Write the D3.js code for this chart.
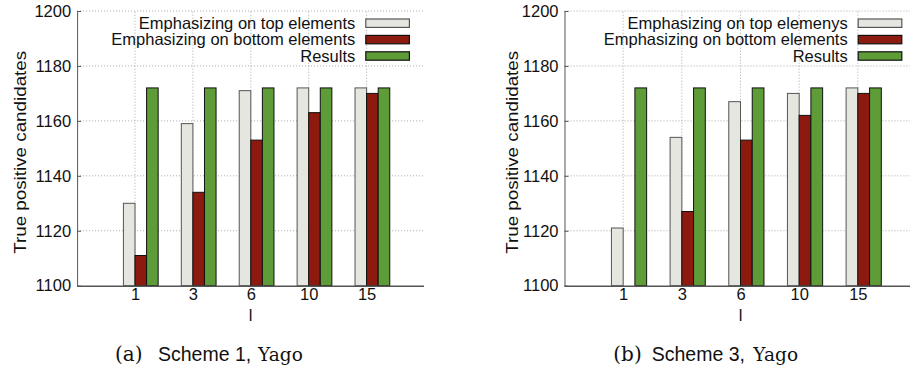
<!DOCTYPE html>
<html>
<head>
<meta charset="utf-8">
<script src="https://cdn.jsdelivr.net/npm/d3@7"></script>
<style>
  body { margin: 0; background: #fff; }
  svg { display: block; }
  text { font-family: "Liberation Sans", Arial, sans-serif; }
</style>
</head>
<body>
<svg width="910" height="372"></svg>
<script>
// Data
const lValues = ["1", "3", "6", "10", "15"];
const yTicks = [1100, 1120, 1140, 1160, 1180, 1200];

const namesA = ["Emphasizing on top elements", "Emphasizing on bottom elements", "Results"];
const topA = [1130, 1159, 1171, 1172, 1172];
const bottomA = [1111, 1134, 1153, 1163, 1170];
const resultsA = [1172, 1172, 1172, 1172, 1172];

const namesB = ["Emphasizing on top elemenys", "Emphasizing on bottom elements", "Results"];
const topB = [1121, 1154, 1167, 1170, 1172];
const bottomB = [null, 1127, 1153, 1162, 1170];
const resultsB = [1172, 1172, 1172, 1172, 1172];

const fills = ["#e6e6e1", "#8c1a0f", "#5d9c36"];
const strokes = ["#555", "#111", "#111"];

const svg = d3.select("svg");

function drawPanel(opts, names, series) {
    const g = svg.append("g");

    // x: category index 0..6, tick k sits at k+1
    const x = d3.scaleLinear().domain([0, 6]).range([opts.x0, opts.x6]);
    const y = d3.scaleLinear().domain([1100, 1200]).range([285.7, 11]);
    const bw = 0.2; // bar width in category units

    // grid
    g.selectAll(".hgrid").data(yTicks.slice(1)).join("line")
        .attr("x1", x(0)).attr("x2", opts.right)
        .attr("y1", d => y(d)).attr("y2", d => y(d))
        .attr("stroke", "#aaa").attr("stroke-dasharray", "1,2");
    g.selectAll(".vgrid").data(lValues).join("line")
        .attr("x1", (d, i) => x(i + 1)).attr("x2", (d, i) => x(i + 1))
        .attr("y1", y(1100)).attr("y2", y(1200))
        .attr("stroke", "#aaa").attr("stroke-dasharray", "1,2");

    // bars
    series.forEach((vals, s) => {
        g.selectAll(".bar" + s).data(vals.map((v, i) => ({ v, i })).filter(d => d.v != null))
            .join("rect")
            .attr("x", d => x(d.i + 1 + (s - 1) * bw))
            .attr("width", x(bw) - x(0))
            .attr("y", d => y(d.v))
            .attr("height", d => y(1100) - y(d.v))
            .attr("fill", fills[s])
            .attr("stroke", strokes[s])
            .attr("stroke-width", 1);
    });

    // y axis
    const ya = g.append("g")
        .attr("transform", `translate(${x(0)},0)`)
        .call(d3.axisLeft(y).tickValues(yTicks).tickFormat(d3.format("d"))
            .tickSizeInner(-4).tickSizeOuter(0).tickPadding(6));
    ya.select(".domain").attr("stroke", "#555");
    ya.selectAll(".tick line").attr("stroke", "#555");
    ya.selectAll("text").style("font-size", "16.5px").attr("fill", "#111");

    // x axis
    const xa = g.append("g")
        .attr("transform", `translate(0,${y(1100)})`)
        .call(d3.axisBottom(x).tickValues([1, 2, 3, 4, 5]).tickFormat(d => lValues[d - 1])
            .tickSize(0).tickPadding(3));
    xa.select(".domain").attr("d", `M${x(0)},0.5H${opts.right}`).attr("stroke", "#555").attr("stroke-width", 1.5);
    xa.selectAll("text").style("font-size", "16.5px").attr("fill", "#111");

    // axis labels
    g.append("text")
        .attr("transform", `translate(${opts.ylabX},${(y(1100) + y(1200)) / 2 + 4}) rotate(-90)`)
        .attr("text-anchor", "middle")
        .attr("dy", "0.35em")
        .attr("textLength", 203).attr("lengthAdjust", "spacingAndGlyphs")
        .style("font-size", "17px")
        .attr("fill", "#111")
        .text("True positive candidates");

    g.append("text")
        .attr("x", (x(0) + opts.xlabRight) / 2)
        .attr("y", 320.5)
        .attr("text-anchor", "middle")
        .style("font-size", "16.5px")
        .attr("fill", "#111")
        .text("l");

    // legend
    const leg = g.append("g");
    names.forEach((name, s) => {
        const cy = 23.2 + s * 16.4;
        leg.append("text")
            .attr("x", opts.legText).attr("y", cy + 5.6)
            .attr("text-anchor", "end")
            .style("font-size", "16.5px")
            .attr("fill", "#111")
            .text(name);
        leg.append("rect")
            .attr("x", opts.legText + 10.5).attr("y", cy - 4.2)
            .attr("width", 43.6).attr("height", 8.4)
            .attr("fill", fills[s]).attr("stroke", strokes[s]).attr("stroke-width", 1.2);
    });

    // caption: serif letter, sans scheme name, serif dataset name
    const capParts = [
        { t: opts.capLetter, x: opts.capX[0], f: "'DejaVu Serif', serif", s: 20 },
        { t: opts.capScheme, x: opts.capX[1], f: "'Liberation Sans', sans-serif", s: 19.5 },
        { t: "Yago", x: opts.capX[2], f: "'DejaVu Serif', serif", s: 18.5 }
    ];
    capParts.forEach(p => {
        g.append("text")
            .attr("x", p.x).attr("y", 361)
            .style("font-family", p.f).style("font-size", p.s + "px")
            .attr("fill", "#111")
            .text(p.t);
    });
}

drawPanel({ x0: 77.1, x6: 424.5, right: 424, ylabX: 20, xlabRight: 424, legText: 355.3,
            capLetter: "(a)", capScheme: "Scheme 1,", capX: [115, 158, 258] },
          namesA, [topA, bottomA, resultsA]);

drawPanel({ x0: 564.5, x6: 916.5, right: 910, ylabX: 512.5, xlabRight: 916.5, legText: 847.7,
            capLetter: "(b)", capScheme: "Scheme 3,", capX: [613.3, 651.7, 753.3] },
          namesB, [topB, bottomB, resultsB]);
</script>
</body>
</html>
